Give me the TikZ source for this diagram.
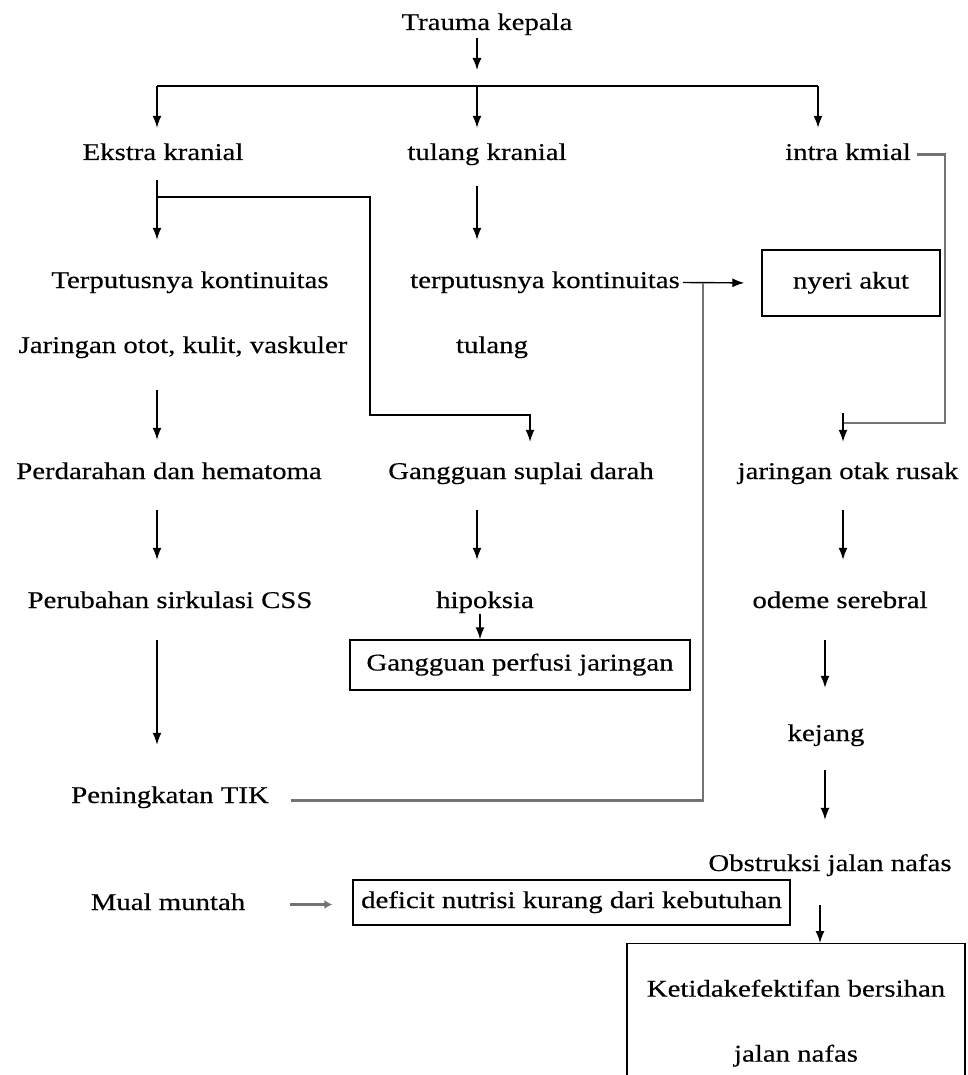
\documentclass[tikz,border=0pt]{standalone}
\usepackage{fontspec}
\setmainfont{Liberation Serif}[FakeStretch=1.2,FakeBold=0.4]
\usetikzlibrary{arrows.meta}
\begin{document}
\begin{tikzpicture}[x=1pt,y=-1pt,
  lbl/.style={inner sep=0pt,text height=17pt,text depth=6pt,anchor=base,font=\fontsize{24}{28}\selectfont},
  boxed/.style={draw,line width=1.4pt,inner sep=0pt,text height=17pt,text depth=6pt,font=\fontsize{24}{28}\selectfont},
  bigbox/.style={draw,line width=1.4pt,inner sep=0pt,align=center,font=\fontsize{24}{28}\selectfont},
  arr/.style={line width=1.4pt,-{Latex[length=12pt,width=9pt]}},
  ln/.style={line width=1.4pt},
  gln/.style={line width=2.6pt,draw=black!55},
  garr/.style={line width=2.6pt,draw=black!55,-{Latex[length=8pt,width=9pt]}}]
\useasboundingbox (0,0) rectangle (968,1075);
% columns
\coordinate (cA) at (157,0);
\coordinate (cB) at (477,0);
\coordinate (cC) at (818,0);
\coordinate (cD) at (843,0);
\coordinate (cE) at (825,0);
\coordinate (cF) at (820,0);
\coordinate (cH) at (480,0);
% nodes
\node[lbl] (trauma) at (487,30) {Trauma kepala};
\node[lbl] (ekstra) at (163,160) {Ekstra kranial};
\node[lbl] (tulangk) at (487,160) {tulang kranial};
\node[lbl] (intra) at (848,160) {intra kmial};
\node[lbl] (terput1) at (190,288) {Terputusnya kontinuitas};
\node[lbl] (jaringan1) at (183,353) {Jaringan otot, kulit, vaskuler};
\node[lbl] (terput2) at (545,288) {terputusnya kontinuitas};
\node[lbl] (tulang) at (492,353) {tulang};
\node[boxed,minimum width=178pt,minimum height=66pt] (nyeri) at (851,283) {nyeri akut};
\node[lbl] (perdarahan) at (169,479) {Perdarahan dan hematoma};
\node[lbl] (gangguan) at (521,479) {Gangguan suplai darah};
\node[lbl] (otak) at (848,479) {jaringan otak rusak};
\node[lbl] (perubahan) at (170,608) {Perubahan sirkulasi CSS};
\node[lbl] (hipoksia) at (485,608) {hipoksia};
\node[lbl] (odeme) at (840,608) {odeme serebral};
\node[boxed,minimum width=340pt,minimum height=50pt] (perfusi) at (520,665) {Gangguan perfusi jaringan};
\node[lbl] (kejang) at (826,741) {kejang};
\node[lbl] (peningkatan) at (170,803) {Peningkatan TIK};
\node[lbl] (obstruksi) at (830,871) {Obstruksi jalan nafas};
\node[lbl] (mual) at (168,910) {Mual muntah};
\node[boxed,minimum width=437pt,minimum height=45pt] (deficit) at (571.5,902.5) {deficit nutrisi kurang dari kebutuhan};
\node[bigbox,minimum width=338pt,minimum height=159pt,anchor=north] (ketidak) at (796,943) {Ketidakefektifan bersihan\\[37pt]jalan nafas};
% junction coordinates
\coordinate (top) at (477,86);
\coordinate (eb) at (157,197);
\coordinate (k1) at (370,415);
\coordinate (k2) at (530,415);
\coordinate (ir) at (945,160);
\coordinate (jo) at (843,423);
\coordinate (pj) at (703,283);
% connectors
\draw[arr,shorten >=16pt] (trauma.south -| cB) ++(0,2) -- (top);
\draw[ln] (top -| cA) -- (top -| cC);
\draw[arr,shorten >=15pt] (top -| cA) -- (ekstra.north -| cA);
\draw[arr,shorten >=15pt] (top) -- (tulangk.north -| cB);
\draw[arr,shorten >=15pt] (top -| cC) -- (intra.north -| cC);
\draw[arr,shorten >=31pt] (ekstra.south -| cA) ++(0,14) -- (terput1.north -| cA);
\draw[arr,shorten >=20pt] (eb) -| (k1) -- (k2) -- (gangguan.north -| k2);
\draw[arr,shorten >=31pt] (tulangk.south -| cB) ++(0,20) -- (terput2.north -| cB);
\draw[arr,shorten >=17pt] (terput2.east) ++(3,0) -- (nyeri.west);
\draw[gln] (peningkatan.east) ++(22,3) -| (pj);
\draw[gln] (intra.east) ++(6,0) -- (intra.east -| ir) |- (jo);
\draw[arr,shorten >=20pt] (jo) ++(0,-10) -- (otak.north -| jo);
\draw[arr,shorten >=22pt] (jaringan1.south -| cA) ++(0,31) -- (perdarahan.north -| cA);
\draw[arr,shorten >=31pt] (perdarahan.south -| cA) ++(0,25) -- (perubahan.north -| cA);
\draw[arr,shorten >=31pt] (gangguan.south -| cB) ++(0,25) -- (hipoksia.north -| cB);
\draw[arr,shorten >=31pt] (otak.south -| cD) ++(0,25) -- (odeme.north -| cD);
\draw[arr] (hipoksia.south -| cH) -- (perfusi.north -| cH);
\draw[arr,shorten >=41pt] (perubahan.south -| cA) ++(0,26) -- (peningkatan.north -| cA);
\draw[arr,shorten >=36pt] (odeme.south -| cE) ++(0,26) -- (kejang.north -| cE);
\draw[arr,shorten >=34pt] (kejang.south -| cE) ++(0,23) -- (obstruksi.north -| cE);
\draw[garr,shorten >=20pt] (mual.east) ++(45,0) -- (mual.east -| deficit.west);
\draw[arr] (obstruksi.south -| cF) ++(0,28) -- (ketidak.north -| cF);
\end{tikzpicture}
\end{document}
